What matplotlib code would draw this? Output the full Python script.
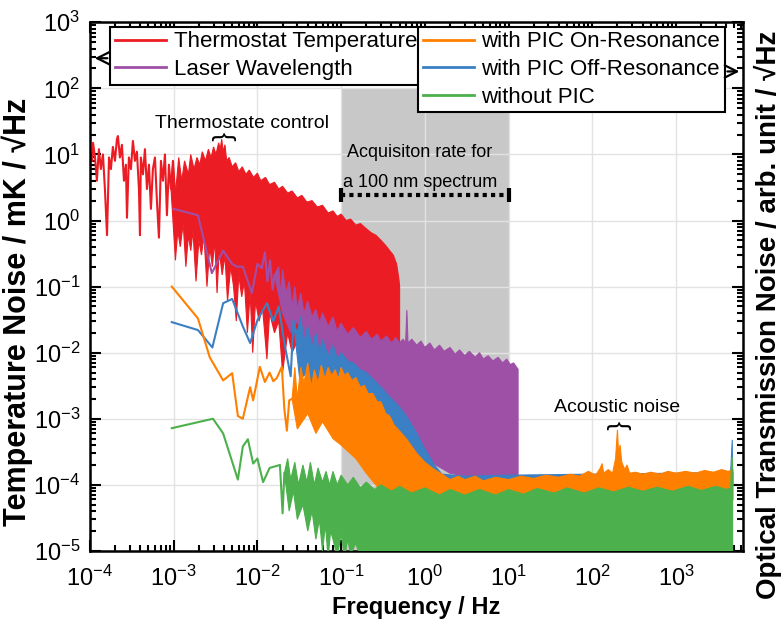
import numpy as np
import matplotlib.pyplot as plt
from matplotlib.ticker import LogLocator, NullFormatter

plt.rcParams['font.family'] = ['Liberation Sans', 'DejaVu Sans']
plt.rcParams['mathtext.fontset'] = 'custom'
plt.rcParams['mathtext.rm'] = 'Liberation Sans'
plt.rcParams['mathtext.it'] = 'Liberation Sans:italic'
plt.rcParams['mathtext.bf'] = 'Liberation Sans:bold'

# ---- Thermostat Temperature (red) ----
red_line_f = [1.00e-4, 1.06e-4, 1.09e-4, 1.15e-4, 1.21e-4, 1.28e-4, 1.35e-4, 1.43e-4, 1.51e-4, 1.60e-4,
              1.69e-4, 1.78e-4, 1.88e-4, 1.99e-4, 2.10e-4, 2.16e-4, 2.28e-4, 2.41e-4, 2.55e-4, 2.69e-4,
              2.77e-4, 2.92e-4, 3.09e-4, 3.26e-4, 3.45e-4, 3.64e-4, 3.85e-4, 3.96e-4, 4.06e-4, 4.30e-4,
              4.54e-4, 4.80e-4, 5.07e-4, 5.35e-4, 5.65e-4, 5.98e-4, 6.31e-4, 6.67e-4, 7.05e-4, 7.45e-4,
              7.87e-4, 8.31e-4, 8.79e-4, 9.28e-4, 9.81e-4, 1.04e-3]
red_line_v = [11, 8, 15, 9, 4, 12, 6, 10, 3, 0.6,
              9, 6, 13, 8, 17, 19, 9, 14, 4, 7,
              1.1, 9, 6, 16, 8, 11, 3, 0.6, 9, 5,
              12, 3, 7, 1.5, 6, 9, 2, 0.55, 8, 4,
              10, 1.2, 7, 3, 8, 2.5]
red_top_f = [9.3e-4, 9.8e-4, 1.05e-3, 1.15e-3, 1.25e-3, 1.35e-3, 1.5e-3, 1.6e-3, 1.75e-3, 1.9e-3,
             2.05e-3, 2.2e-3, 2.4e-3, 2.6e-3, 2.8e-3, 3.0e-3, 3.2e-3, 3.45e-3, 3.6e-3, 3.75e-3,
             3.9e-3, 4.1e-3, 4.3e-3, 4.6e-3, 5.0e-3, 5.5e-3, 6.0e-3, 6.6e-3, 7.3e-3, 8.0e-3,
             9.0e-3, 1.0e-2, 1.1e-2, 1.25e-2, 1.4e-2, 1.6e-2, 1.8e-2, 2.0e-2, 2.3e-2, 2.6e-2,
             3.0e-2, 3.4e-2, 3.9e-2, 4.5e-2, 5.2e-2, 6.0e-2, 7.0e-2, 8.0e-2, 9.0e-2, 0.1,
             0.115, 0.13, 0.15, 0.17, 0.2, 0.23, 0.26, 0.3, 0.34, 0.38,
             0.42, 0.46, 0.49, 0.5]
red_top_v = [3, 8, 2.5, 9, 4, 8, 5, 10, 6, 9,
             7, 11, 8, 12, 9, 13, 10, 15, 12, 17,
             11, 14, 8, 9, 6.5, 7.5, 5.5, 6.5, 5, 5.8,
             4.5, 5.2, 4, 4.5, 3.5, 3.8, 3, 3.3, 2.6, 2.8,
             2.2, 2.4, 1.9, 2.0, 1.6, 1.7, 1.3, 1.4, 1.15, 1.25,
             1.0, 1.05, 0.85, 0.9, 0.75, 0.65, 0.6, 0.5, 0.42, 0.35,
             0.3, 0.22, 0.13, 0.1]
red_bot_f = [9.3e-4, 1.05e-3, 1.12e-3, 1.2e-3, 1.3e-3, 1.4e-3, 1.5e-3, 1.6e-3, 1.7e-3, 1.85e-3,
             2.0e-3, 2.15e-3, 2.3e-3, 2.5e-3, 2.7e-3, 2.9e-3, 3.1e-3, 3.3e-3, 3.5e-3, 3.8e-3,
             4.1e-3, 4.4e-3, 4.8e-3, 5.2e-3, 5.6e-3, 6.0e-3, 6.5e-3, 7.0e-3, 7.6e-3, 8.2e-3,
             8.8e-3, 9.5e-3, 1.05e-2, 1.15e-2, 1.3e-2, 1.4e-2, 1.6e-2, 1.8e-2, 2.0e-2, 2.3e-2,
             2.6e-2, 3.0e-2, 3.4e-2, 3.8e-2, 4.3e-2, 5.0e-2, 5.6e-2, 6.5e-2, 7.5e-2, 8.5e-2,
             0.1, 0.12, 0.14, 0.17, 0.2, 0.25, 0.3, 0.36, 0.42, 0.5]
red_bot_v = [3, 0.25, 0.7, 0.4, 0.9, 0.2, 0.6, 0.35, 0.7, 0.12,
             0.5, 0.3, 0.6, 0.1, 0.4, 0.2, 0.5, 0.08, 0.35, 0.15,
             0.3, 0.06, 0.2, 0.1, 0.03, 0.15, 0.07, 0.12, 0.02, 0.08,
             0.01, 0.06, 0.03, 0.05, 0.008, 0.04, 0.02, 0.03, 0.005, 0.02,
             0.01, 0.015, 0.004, 0.012, 0.007, 0.01, 0.003, 0.008, 0.005, 0.007,
             0.004, 0.007, 0.003, 0.006, 0.004, 0.006, 0.003, 0.006, 0.004, 0.008]

# ---- Laser Wavelength (purple) ----
pur_line_f = [1.0e-3, 1.95e-3, 2.86e-3, 3.9e-3, 5.0e-3, 5.7e-3, 6.7e-3, 8.6e-3, 1.0e-2, 1.13e-2,
              1.23e-2, 1.32e-2, 1.42e-2, 1.52e-2, 1.6e-2]
pur_line_v = [1.5, 1.2, 0.16, 0.35, 0.22, 0.2, 0.2, 0.08, 0.22, 0.19,
              0.33, 0.12, 0.25, 0.09, 0.15]
pur_top_f = [1.6e-2, 1.8e-2, 1.9e-2, 2.0e-2, 2.2e-2, 2.4e-2, 2.6e-2, 2.8e-2, 3.0e-2, 3.3e-2,
             3.6e-2, 4.0e-2, 4.5e-2, 5.0e-2, 5.5e-2, 6.0e-2, 7.0e-2, 8.0e-2, 9.0e-2, 0.1,
             0.12, 0.14, 0.17, 0.2, 0.23, 0.27, 0.3, 0.35, 0.4, 0.45,
             0.5, 0.55, 0.59, 0.61, 0.63, 0.7, 0.8, 0.9, 1.0, 1.15,
             1.3, 1.5, 1.7, 2.0, 2.3, 2.6, 3.0, 3.4, 4.0, 4.5,
             5.0, 5.7, 6.5, 7.5, 8.5, 9.5, 10.5, 11.5, 12.5, 13.0]
pur_top_v = [0.15, 0.2, 0.07, 0.18, 0.08, 0.12, 0.05, 0.1, 0.045, 0.08,
             0.04, 0.06, 0.035, 0.045, 0.028, 0.04, 0.025, 0.035, 0.021, 0.028,
             0.019, 0.024, 0.017, 0.021, 0.016, 0.019, 0.015, 0.018, 0.014, 0.017,
             0.014, 0.016, 0.014, 0.044, 0.014, 0.016, 0.013, 0.015, 0.012, 0.014,
             0.011, 0.013, 0.0105, 0.012, 0.0095, 0.011, 0.009, 0.0105, 0.0085, 0.01,
             0.008, 0.009, 0.0075, 0.0085, 0.007, 0.008, 0.0066, 0.007, 0.006, 0.0056]
pur_bot_f = [1.6e-2, 2.0e-2, 2.5e-2, 3.0e-2, 4.0e-2, 5.0e-2, 7.0e-2, 0.1, 0.15, 0.2,
             0.3, 0.5, 0.7, 1.0, 2.0, 5.0, 13.0]
pur_bot_v = [0.15, 0.04, 0.02, 0.03, 0.012, 0.015, 0.006, 0.005, 0.002, 0.0025,
             0.001, 5e-4, 4e-4, 2.5e-4, 1.5e-4, 1.2e-4, 1.2e-4]

# ---- with PIC Off-Resonance (blue) ----
blu_line_f = [9.5e-4, 1.95e-3, 2.9e-3, 3.9e-3, 5.0e-3, 6.7e-3, 8.2e-3, 1.0e-2, 1.3e-2, 1.55e-2,
              1.8e-2, 2.1e-2, 2.5e-2, 2.7e-2]
blu_line_v = [0.029, 0.022, 0.012, 0.056, 0.065, 0.025, 0.014, 0.031, 0.056, 0.03,
              0.05, 0.014, 0.0044, 0.03]
blu_top_f = [2.7e-2, 3.0e-2, 3.3e-2, 3.6e-2, 4.0e-2, 4.5e-2, 5.0e-2, 5.5e-2, 6.0e-2, 7.0e-2,
             8.0e-2, 9.0e-2, 0.1, 0.12, 0.14, 0.17, 0.2, 0.25, 0.3, 0.35,
             0.4, 0.5, 0.6, 0.7, 0.8, 1.0, 1.3, 1.6, 3.0, 10.0,
             100.0, 1000.0, 4500.0, 4700.0, 4750.0, 4800.0]
blu_top_v = [0.03, 0.02, 0.035, 0.015, 0.025, 0.012, 0.02, 0.01, 0.016, 0.009,
             0.013, 0.008, 0.01, 0.0075, 0.007, 0.0055, 0.005, 0.0038, 0.003, 0.0024,
             0.002, 0.0015, 0.0011, 8e-4, 6e-4, 3.5e-4, 2e-4, 1.45e-4, 1.35e-4, 1.4e-4,
             1.45e-4, 1.5e-4, 1.55e-4, 4.8e-4, 1.55e-4, 1.55e-4]
blu_bot_f = [2.7e-2, 3.2e-2, 4.0e-2, 5.0e-2, 7.0e-2, 0.1, 0.2, 0.5, 1.0, 1.6, 4800.0]
blu_bot_v = [0.03, 0.004, 0.005, 0.002, 0.0025, 0.001, 5e-4, 2e-4, 1.2e-4, 1e-4, 1e-4]

# ---- with PIC On-Resonance (orange) ----
ora_line_f = [9.5e-4, 1.95e-3, 2.7e-3, 3.9e-3, 5.0e-3, 5.85e-3, 6.7e-3, 8.2e-3, 8.9e-3, 1.07e-2,
              1.23e-2, 1.4e-2, 1.55e-2, 1.7e-2, 1.96e-2, 2.1e-2, 2.25e-2, 2.4e-2, 2.6e-2]
ora_line_v = [0.1, 0.033, 0.0085, 0.0038, 0.0049, 0.0011, 0.001, 0.003, 0.0019, 0.0061,
              0.0036, 0.005, 0.0037, 0.0041, 0.0061, 0.0014, 6.6e-4, 0.0019, 0.002]
ora_top_f = [2.6e-2, 2.8e-2, 3.0e-2, 3.3e-2, 3.6e-2, 4.0e-2, 4.4e-2, 4.8e-2, 5.3e-2, 5.8e-2,
             6.4e-2, 7.0e-2, 7.7e-2, 8.5e-2, 9.3e-2, 0.1, 0.11, 0.12, 0.135, 0.15,
             0.17, 0.19, 0.21, 0.24, 0.27, 0.3, 0.34, 0.38, 0.43, 0.5,
             0.6, 0.7, 0.8, 1.0, 1.3, 1.6, 2.0, 2.5, 3.0, 4.0,
             5.0, 7.0, 10.0, 14.0, 20.0, 28.0, 40.0, 55.0, 70.0, 90.0,
             110.0, 125.0, 131.0, 137.0, 155.0, 175.0, 190.0, 200.0, 206.0, 215.0,
             225.0, 245.0, 260.0, 280.0, 330.0, 400.0, 500.0, 650.0, 800.0, 1000.0,
             1300.0, 1700.0, 2200.0, 2800.0, 3500.0, 4200.0, 4800.0]
ora_top_v = [0.002, 0.006, 0.002, 0.006, 0.0035, 0.007, 0.003, 0.0055, 0.0035, 0.0065,
             0.004, 0.006, 0.0045, 0.0055, 0.004, 0.006, 0.0045, 0.005, 0.0038, 0.0042,
             0.003, 0.0032, 0.0024, 0.0024, 0.0018, 0.0018, 0.0012, 0.0011, 8e-4, 6.5e-4,
             5e-4, 3.8e-4, 3e-4, 2.2e-4, 1.7e-4, 1.45e-4, 1.2e-4, 1.35e-4, 1.2e-4, 1.35e-4,
             1.15e-4, 1.3e-4, 1.2e-4, 1.35e-4, 1.25e-4, 1.4e-4, 1.3e-4, 1.45e-4, 1.35e-4, 1.6e-4,
             1.4e-4, 1.8e-4, 2.1e-4, 1.5e-4, 1.7e-4, 1.5e-4, 2.5e-4, 6.8e-4, 3.0e-4, 4.0e-4,
             2.2e-4, 1.7e-4, 2.0e-4, 1.5e-4, 1.55e-4, 1.45e-4, 1.55e-4, 1.45e-4, 1.6e-4, 1.5e-4,
             1.6e-4, 1.5e-4, 1.65e-4, 1.55e-4, 1.7e-4, 1.6e-4, 1.7e-4]
ora_bot_f = [2.6e-2, 3.0e-2, 4.0e-2, 5.0e-2, 6.0e-2, 8.0e-2, 0.1, 0.15, 0.2, 0.3,
             0.5, 4800.0]
ora_bot_v = [0.002, 7e-4, 0.0012, 6e-4, 9e-4, 5e-4, 4e-4, 2.5e-4, 1.5e-4, 8e-5,
             6e-5, 6e-5]

# ---- without PIC (green) ----
grn_line_f = [9.5e-4, 2.95e-3, 3.9e-3, 5.85e-3, 6.7e-3, 7.7e-3, 8.9e-3, 1.0e-2, 1.17e-2, 1.4e-2,
              1.86e-2, 2.0e-2, 2.1e-2]
grn_line_v = [7.2e-4, 1.0e-3, 6e-4, 1.2e-4, 3.8e-4, 4.9e-4, 2.1e-4, 2.5e-4, 1.1e-4, 1.8e-4,
              2e-4, 3.7e-5, 1.5e-4]
grn_top_f = [2.1e-2, 2.3e-2, 2.5e-2, 2.8e-2, 3.1e-2, 3.5e-2, 3.9e-2, 4.3e-2, 4.8e-2, 5.3e-2,
             6.0e-2, 6.6e-2, 7.3e-2, 8.0e-2, 9.0e-2, 0.1, 0.12, 0.14, 0.17, 0.2,
             0.25, 0.3, 0.4, 0.5, 0.7, 1.0, 1.5, 2.0, 3.0, 4.5,
             7.0, 10.0, 15.0, 22.0, 35.0, 50.0, 80.0, 120.0, 180.0, 270.0,
             400.0, 600.0, 900.0, 1400.0, 2000.0, 3000.0, 4000.0, 4500.0, 4650.0, 4700.0,
             4750.0]
grn_top_v = [1.5e-4, 2.5e-4, 1.2e-4, 2.2e-4, 1.0e-4, 2.0e-4, 1.1e-4, 2.2e-4, 1.0e-4, 1.8e-4,
             1.1e-4, 1.6e-4, 1.0e-4, 1.6e-4, 1.0e-4, 1.4e-4, 1.0e-4, 1.3e-4, 9e-5, 1.1e-4,
             8.5e-5, 1e-4, 8e-5, 9.5e-5, 7.5e-5, 9e-5, 7e-5, 8.5e-5, 7e-5, 8.5e-5,
             7e-5, 8.5e-5, 7.2e-5, 8.8e-5, 7.5e-5, 9e-5, 7.5e-5, 9e-5, 7.8e-5, 9.2e-5,
             8e-5, 9.2e-5, 8e-5, 9.5e-5, 8.2e-5, 9.5e-5, 8.5e-5, 9e-5, 2.6e-4, 2.6e-4,
             8.5e-5]
grn_bot_f = [2.1e-2, 2.4e-2, 2.7e-2, 3.0e-2, 3.5e-2, 4.0e-2, 4.5e-2, 5.0e-2, 5.5e-2, 6.0e-2,
             6.5e-2, 7.0e-2, 7.5e-2, 8.0e-2, 9.0e-2, 0.1, 0.11, 0.12, 0.13, 0.15,
             0.17, 0.18, 0.19, 4750.0]
grn_bot_v = [1.5e-4, 4e-5, 8e-5, 3e-5, 5e-5, 2e-5, 4e-5, 1.5e-5, 3e-5, 1e-5,
             2.5e-5, 8e-6, 2e-5, 1.5e-5, 8e-6, 1.8e-5, 8e-6, 1.5e-5, 9e-6, 1.3e-5,
             8e-6, 1.2e-5, 1e-6, 1e-6]

# shaded acquisition range (Hz)
acq_band = [0.1, 10.0]

c_red = '#ec1c24'
c_pur = '#9e4fa6'
c_blu = '#3b7fc4'
c_ora = '#ff8000'
c_grn = '#4cb04c'

fig = plt.figure(figsize=(7.82, 6.19), dpi=100)
ax = fig.add_subplot(111)
fig.subplots_adjust(left=0.115, right=0.950, top=0.964, bottom=0.110)

ax.set_xscale('log')
ax.set_yscale('log')

ax.fill_between(acq_band, [1e-5, 1e-5], [1e2, 1e2], color='#c8c8c8', lw=0, zorder=0.2)


def band(f_top, v_top, f_bot, v_bot, color, z):
    xs = np.concatenate([f_top, f_bot[::-1]])
    ys = np.concatenate([v_top, v_bot[::-1]])
    ax.fill(xs, ys, color=color, lw=0.8, zorder=z)


band(red_top_f, red_top_v, red_bot_f, red_bot_v, c_red, 2)
ax.plot(red_line_f, red_line_v, color=c_red, lw=1.5, zorder=2)
band(pur_top_f, pur_top_v, pur_bot_f, pur_bot_v, c_pur, 3)
ax.plot(pur_line_f, pur_line_v, color=c_pur, lw=1.5, zorder=3)
band(blu_top_f, blu_top_v, blu_bot_f, blu_bot_v, c_blu, 4)
ax.plot(blu_line_f, blu_line_v, color=c_blu, lw=1.5, zorder=4)
band(ora_top_f, ora_top_v, ora_bot_f, ora_bot_v, c_ora, 5)
ax.plot(ora_line_f, ora_line_v, color=c_ora, lw=1.5, zorder=5)
band(grn_top_f, grn_top_v, grn_bot_f, grn_bot_v, c_grn, 6)
ax.plot(grn_line_f, grn_line_v, color=c_grn, lw=1.5, zorder=6)

# axes styling
ax.set_axisbelow(True)
ax.grid(True, which='major', color='#e2e2e2', lw=1)
ax.set_xticks(10.0 ** np.arange(-4, 4))
ax.set_yticks(10.0 ** np.arange(-5, 4))
for a in [ax.xaxis, ax.yaxis]:
    a.set_minor_locator(LogLocator(base=10, subs=np.arange(2, 10), numticks=200))
    a.set_minor_formatter(NullFormatter())
ax.set_xlim(1e-4, 6300)
ax.set_ylim(1e-5, 1e3)
ax.tick_params(which='both', direction='in', top=True, right=True, width=1.5)
ax.tick_params(which='major', length=8, labelsize=17)
ax.tick_params(axis='x', which='major', pad=11)
ax.tick_params(axis='y', which='major', pad=7)
ax.tick_params(which='minor', length=4)
for s in ax.spines.values():
    s.set_linewidth(1.8)

ax.set_xlabel('Frequency / Hz', fontsize=17, fontweight='bold', labelpad=3)
ax.set_ylabel('Temperature Noise / mK / \u221aHz', fontsize=22, fontweight='bold')
ax.yaxis.set_label_coords(-0.087, 0.452)
ax.text(1.039, 0.446, 'Optical Transmission Noise / arb. unit / \u221aHz', transform=ax.transAxes,
        rotation=90, ha='center', va='center', fontsize=20, fontweight='bold')

# legends
h_red, = ax.plot([], [], color=c_red, lw=2)
h_pur, = ax.plot([], [], color=c_pur, lw=2)
h_ora, = ax.plot([], [], color=c_ora, lw=2)
h_blu, = ax.plot([], [], color=c_blu, lw=2)
h_grn, = ax.plot([], [], color=c_grn, lw=2)
leg_kw = dict(fontsize=16, fancybox=False, framealpha=1, edgecolor='black', borderpad=0.2,
              labelspacing=0.3, handlelength=2.3, handletextpad=0.35, borderaxespad=0)
leg1 = ax.legend([h_red, h_pur], ['Thermostat Temperature', 'Laser Wavelength'],
                 loc='upper left', bbox_to_anchor=(0.031, 0.991), **leg_kw)
leg1.get_frame().set_linewidth(1.5)
ax.add_artist(leg1)
leg2 = ax.legend([h_ora, h_blu, h_grn], ['with PIC On-Resonance', 'with PIC Off-Resonance', 'without PIC'],
                 loc='upper right', bbox_to_anchor=(0.972, 0.991), **leg_kw)
leg2.get_frame().set_linewidth(1.5)
leg1.set_zorder(10)
leg2.set_zorder(10)

# arrows pointing to the matching axis
ax.annotate('', xy=(0.003, 0.932), xytext=(0.031, 0.932), xycoords='axes fraction',
            arrowprops=dict(arrowstyle='->', lw=1.6, mutation_scale=22), zorder=11)
ax.annotate('', xy=(0.999, 0.907), xytext=(0.972, 0.907), xycoords='axes fraction',
            arrowprops=dict(arrowstyle='->', lw=1.6, mutation_scale=22), zorder=11)

# annotations
ax.text(6.5e-3, 29, 'Thermostate control', ha='center', va='center', fontsize=14, zorder=12)
ax.text(3.8e-3, 18.5, '{', rotation=-90, ha='center', va='center', fontsize=19, zorder=12)
ax.text(0.87, 10.8, 'Acquisiton rate for', ha='center', va='center', fontsize=13, zorder=12)
ax.text(0.87, 3.8, 'a 100 nm spectrum', ha='center', va='center', fontsize=13, zorder=12)
ax.plot(acq_band, [2.4, 2.4], color='black', lw=3, ls=(0, (1, 1)), zorder=12)
ax.plot(acq_band, [2.4, 2.4], color='black', lw=0, marker='|', ms=10, mew=3, zorder=12)
ax.text(200, 1.5e-3, 'Acoustic noise', ha='center', va='center', fontsize=14, zorder=12)
ax.text(200, 8.0e-4, '{', rotation=-90, ha='center', va='center', fontsize=19, zorder=12)

fig.savefig('out.png', dpi=100)
